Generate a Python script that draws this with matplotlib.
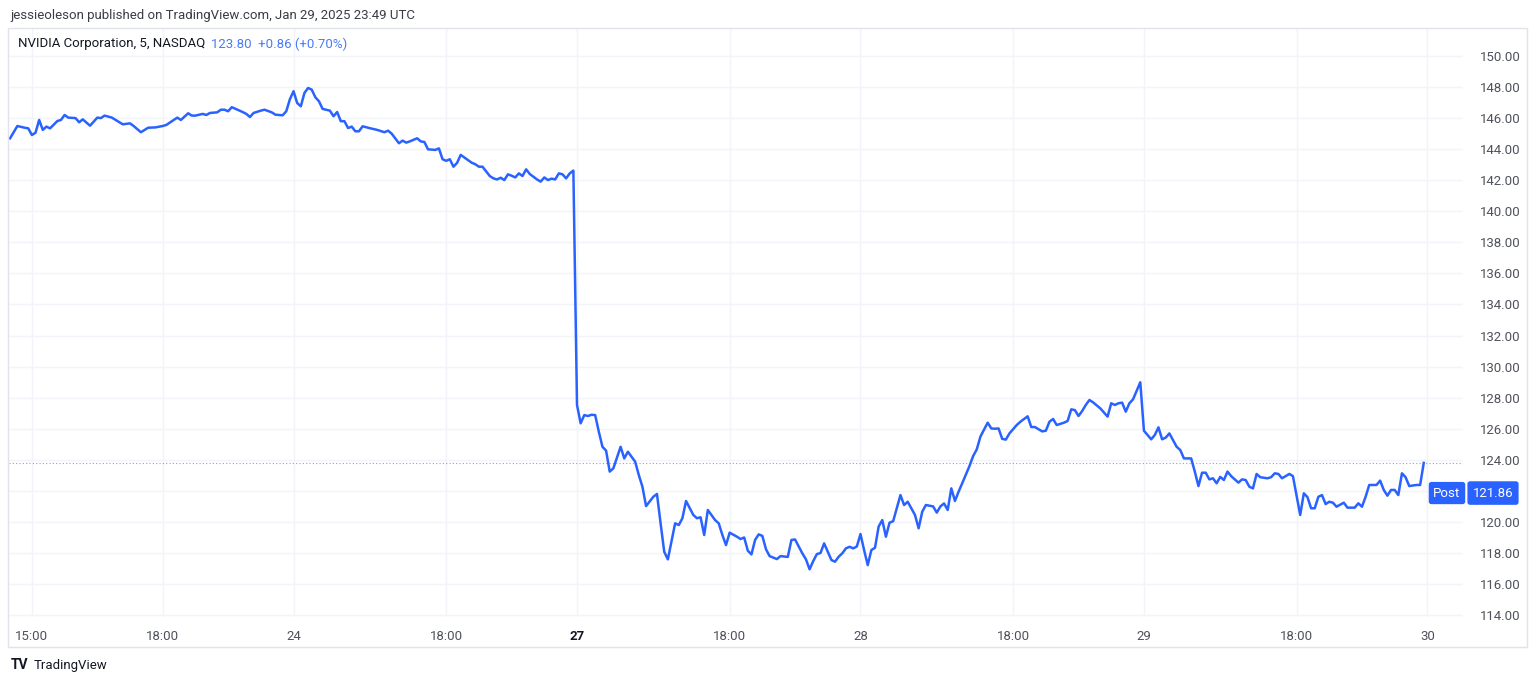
import matplotlib.pyplot as plt
import matplotlib.transforms as mtransforms
from matplotlib.patches import Rectangle

# NVDA 5-minute closes, regular sessions only (78 bars per session)
# bar index counts 5-min bars from Jan 23 14:30 UTC
jan23_bars = [0, 2, 4, 5, 6, 7, 8, 9, 10, 11, 13, 14, 15, 16, 18, 19, 20, 22, 24, 25, 26, 28, 31, 33, 34, 36, 38,
              40, 42, 43, 46, 47, 49, 50, 51, 53, 54, 55, 57, 58, 59, 60, 61, 62, 64, 65, 66, 67, 69, 70, 72, 73,
              75, 76, 77]
jan23_close = [144.70, 145.49, 145.38, 145.34, 144.91, 145.06, 145.88, 145.24, 145.45, 145.34, 145.81, 145.88,
               146.20, 146.03, 146.00, 145.73, 145.92, 145.51, 146.03, 146.00, 146.16, 146.03, 145.60, 145.66,
               145.49, 145.09, 145.38, 145.40, 145.49, 145.56, 146.03, 145.88, 146.31, 146.16, 146.16, 146.27,
               146.20, 146.33, 146.37, 146.54, 146.54, 146.44, 146.70, 146.60, 146.39, 146.27, 146.07, 146.33,
               146.48, 146.54, 146.37, 146.22, 146.18, 146.44, 147.22]

jan24_bars = [78, 79, 80, 81, 82, 83, 84, 85, 86, 88, 89, 90, 91, 92, 93, 94, 95, 96, 97, 99, 101, 103, 104, 105,
              107, 108, 109, 110, 112, 113, 114, 115, 117, 118, 119, 120, 121, 122, 123, 124, 126, 127, 128, 129,
              130, 132, 133, 134, 135, 136, 137, 138, 139, 140, 141, 142, 143, 145, 146, 147, 148, 149, 150, 151,
              152, 153, 154, 155]
jan24_close = [147.73, 146.97, 146.76, 147.62, 147.94, 147.83, 147.34, 147.08, 146.59, 146.48, 146.12, 146.39,
               145.80, 145.80, 145.36, 145.45, 145.15, 145.15, 145.47, 145.35, 145.24, 145.09, 145.19, 145.00,
               144.38, 144.55, 144.42, 144.50, 144.70, 144.50, 144.46, 143.99, 143.95, 144.05, 143.35, 143.25,
               143.35, 142.87, 143.12, 143.63, 143.30, 143.13, 143.03, 142.87, 142.87, 142.27, 142.12, 142.05,
               142.16, 142.01, 142.38, 142.29, 142.18, 142.44, 142.27, 142.70, 142.40, 142.05, 141.91, 142.18,
               142.01, 142.10, 142.05, 142.44, 142.38, 142.12, 142.44, 142.62]

jan27_bars = [156, 157, 158, 159, 160, 161, 162, 163, 164, 165, 166, 168, 169, 170, 172, 173, 174, 175, 177, 178,
              179, 180, 181, 183, 184, 185, 186, 188, 189, 190, 191, 192, 194, 195, 196, 197, 198, 200, 201, 202,
              203, 204, 205, 206, 207, 208, 209, 211, 212, 214, 215, 216, 218, 219, 220, 221, 222, 223, 224, 225,
              226, 227, 228, 229, 230, 231, 232, 233]
jan27_close = [127.53, 126.35, 126.88, 126.82, 126.90, 126.88, 125.81, 124.84, 124.59, 123.24, 123.45, 124.84,
               124.09, 124.52, 123.88, 123.02, 122.27, 121.02, 121.62, 121.80, 119.91, 118.08, 117.59, 119.91,
               119.80, 120.24, 121.35, 120.45, 120.24, 120.30, 119.16, 120.77, 120.12, 119.91, 119.16, 118.51,
               119.31, 119.05, 118.90, 119.00, 118.15, 117.91, 118.84, 119.20, 119.10, 118.24, 117.80, 117.61,
               117.80, 117.75, 118.84, 118.87, 117.98, 117.59, 116.95, 117.48, 117.93, 118.00, 118.62, 118.08,
               117.55, 117.44, 117.76, 117.98, 118.30, 118.40, 118.30, 118.42]

jan28_bars = [234, 235, 236, 237, 238, 239, 240, 241, 242, 243, 244, 245, 246, 247, 249, 250, 251, 252, 254, 255,
              256, 257, 258, 259, 260, 261, 262, 264, 265, 266, 267, 269, 270, 271, 272, 273, 274, 275, 277, 278,
              280, 281, 282, 284, 285, 286, 287, 288, 290, 291, 292, 293, 294, 295, 296, 297, 298, 300, 302, 303,
              304, 305, 306, 307, 308, 309, 311]
jan28_close = [119.22, 118.19, 117.22, 118.19, 118.34, 119.70, 120.12, 119.05, 119.95, 120.05, 120.88, 121.73,
               121.09, 121.30, 120.45, 119.59, 120.66, 121.09, 121.00, 120.60, 121.00, 121.19, 120.77, 122.16,
               121.35, 121.95, 122.49, 123.60, 124.24, 124.67, 125.49, 126.39, 126.02, 126.00, 126.02, 125.35,
               125.30, 125.70, 126.24, 126.45, 126.80, 126.11, 126.11, 125.83, 125.87, 126.45, 126.63, 126.24,
               126.39, 126.50, 127.25, 127.20, 126.82, 127.14, 127.53, 127.85, 127.70, 127.31, 126.78, 127.64,
               127.53, 127.64, 127.68, 127.10, 127.64, 127.89, 128.99]

jan29_bars = [312, 314, 315, 316, 317, 318, 319, 321, 322, 323, 325, 326, 327, 328, 329, 330, 331, 332, 333, 334,
              335, 336, 338, 339, 340, 341, 342, 343, 344, 346, 347, 348, 349, 350, 352, 353, 355, 356, 357, 358,
              359, 360, 361, 362, 363, 364, 365, 367, 368, 370, 371, 372, 373, 374, 376, 377, 378, 379, 380, 381,
              382, 383, 384, 385, 387, 388, 389]
jan29_close = [125.87, 125.32, 125.60, 126.09, 125.32, 125.43, 125.70, 124.84, 124.63, 124.09, 124.09, 123.24,
               122.31, 123.17, 123.17, 122.74, 122.81, 122.49, 122.90, 122.70, 123.24, 122.95, 122.53, 122.74,
               122.70, 122.27, 122.16, 123.09, 122.88, 122.81, 122.88, 123.13, 123.09, 122.81, 123.09, 122.95,
               120.45, 121.84, 121.60, 120.88, 120.88, 121.62, 121.73, 121.15, 121.30, 121.24, 120.98, 121.24,
               120.92, 120.92, 121.20, 120.98, 121.62, 122.38, 122.38, 122.66, 122.06, 121.69, 122.06, 122.06,
               121.73, 123.13, 122.88, 122.31, 122.38, 122.38, 123.80]

# time axis labels (bar index of each label)
tick_bars = [6, 42, 78, 120, 156, 198, 234, 276, 312, 354, 390]
tick_labels = ['15:00', '18:00', '24', '18:00', '27', '18:00', '28', '18:00', '29', '18:00', '30']
price_ticks = list(range(114, 152, 2))

last_price = 123.80
post_price = 121.86

bars = jan23_bars + jan24_bars + jan27_bars + jan28_bars + jan29_bars
closes = jan23_close + jan24_close + jan27_close + jan28_close + jan29_close

W, H = 1536, 684
BLUE = '#2962ff'
TEXT = '#131722'
GREY = '#4f525c'
GRID = '#f2f4f9'

plt.rcParams['font.family'] = ['Roboto', 'DejaVu Sans']

fig = plt.figure(figsize=(W / 100, H / 100), dpi=100)
fig.patch.set_facecolor('white')

# pane in pixel coordinates
left, right, top, bottom = 9, 1463, 28, 617
ax = fig.add_axes([left / W, 1 - bottom / H, (right - left) / W, (bottom - top) / H])

ax.plot(bars, closes, color=BLUE, lw=1.8, solid_joinstyle='round', zorder=3)
ax.axhline(last_price, color=BLUE, lw=0.8, ls=(0, (1, 2)), alpha=0.6, zorder=2)

ax.set_xlim(-0.3, 399.8)
ax.set_ylim(113.88, 151.8)

ax.set_xticks(tick_bars)
ax.set_xticklabels(tick_labels)
ax.set_yticks(price_ticks)
# the post-market label covers the price label just above 121.86
ax.set_yticklabels(['' if abs(p - post_price) < 1 else f'{p:.2f}' for p in price_ticks])
ax.yaxis.tick_right()
ax.tick_params(axis='both', length=0, labelsize=9.5, colors=GREY)
ax.tick_params(axis='x', pad=9)
ax.tick_params(axis='y', pad=12)
for lab in ax.get_xticklabels():
    if lab.get_text() == '27':
        lab.set_fontweight('bold')
        lab.set_color(TEXT)

ax.grid(True, color=GRID, lw=1)
ax.set_axisbelow(True)
for sp in ax.spines.values():
    sp.set_visible(False)

# outer frame of the chart
fig.add_artist(Rectangle((8 / W, 1 - 647 / H), (1527 - 8) / W, (647 - 28) / H, transform=fig.transFigure,
                         fill=False, ec='#e0e3eb', lw=1))

# header and legend
fig.text(10 / W, 1 - 16 / H, 'jessieoleson published on TradingView.com, Jan 29, 2025 23:49 UTC',
         fontsize=9.5, color='#3a3d46', va='center', ha='left')
fig.text(18 / W, 1 - 44 / H, 'NVIDIA Corporation, 5, NASDAQ', fontsize=9.5, color=TEXT, va='center', ha='left')
fig.text(211 / W, 1 - 44 / H, '123.80  +0.86 (+0.70%)', fontsize=9.5, color='#4a7bf7', va='center', ha='left')

# post-market price label
trans = mtransforms.blended_transform_factory(fig.transFigure, ax.transData)
ax.text(1447 / W, post_price, 'Post', transform=trans, ha='center', va='center', fontsize=9.5, color='white',
        clip_on=False, zorder=5, bbox=dict(boxstyle='round,pad=0.35,rounding_size=0.2', fc=BLUE, ec='none'))
ax.text(1493 / W, post_price, '121.86', transform=trans, ha='center', va='center', fontsize=9.5, color='white',
        clip_on=False, zorder=5, bbox=dict(boxstyle='round,pad=0.4,rounding_size=0.2', fc=BLUE, ec='none'))

# footer logo
fig.text(11 / W, 1 - 665 / H, 'TV', fontsize=10, fontweight='bold', color=TEXT, va='center', ha='left')
fig.text(34 / W, 1 - 665 / H, 'TradingView', fontsize=9.5, color=TEXT, va='center', ha='left')

fig.savefig('out.png', dpi=100, facecolor='white')
